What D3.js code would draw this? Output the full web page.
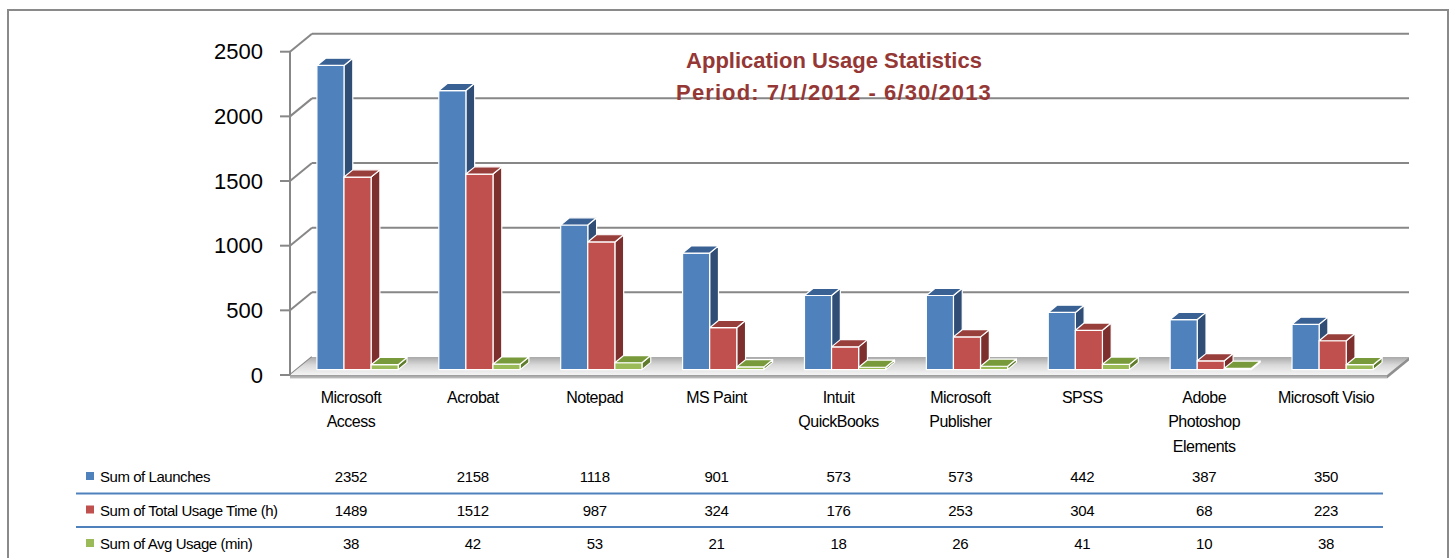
<!DOCTYPE html>
<html>
<head>
<meta charset="utf-8">
<script src="https://cdn.jsdelivr.net/npm/d3@7"></script>
<style>
  html, body { margin: 0; padding: 0; background: #fff; }
  svg { display: block; }
  text { font-family: "Liberation Sans", Arial, sans-serif; fill: #000; }
</style>
</head>
<body>
<svg id="chart" width="1452" height="558"></svg>
<script>
// ---- data ----
const categories = ["Microsoft Access", "Acrobat", "Notepad", "MS Paint", "Intuit QuickBooks",
  "Microsoft Publisher", "SPSS", "Adobe Photoshop Elements", "Microsoft Visio"];
const categoryLines = [["Microsoft", "Access"], ["Acrobat"], ["Notepad"], ["MS Paint"],
  ["Intuit", "QuickBooks"], ["Microsoft", "Publisher"], ["SPSS"], ["Adobe", "Photoshop", "Elements"],
  ["Microsoft Visio"]];
const seriesNames = ["Sum of Launches", "Sum of Total Usage Time (h)", "Sum of Avg Usage (min)"];
const launches = [2352, 2158, 1118, 901, 573, 573, 442, 387, 350];
const totalUsage = [1489, 1512, 987, 324, 176, 253, 304, 68, 223];
const avgUsage = [38, 42, 53, 21, 18, 26, 41, 10, 38];
const yTicks = [0, 500, 1000, 1500, 2000, 2500];
const titleLines = ["Application Usage Statistics", "Period: 7/1/2012 - 6/30/2013"];

const seriesValues = [launches, totalUsage, avgUsage];
const faceColors = [
  { front: "#4F81BD", top: "#3A6193", side: "#2F4D75" },
  { front: "#C0504D", top: "#983F3C", side: "#7D2F2D" },
  { front: "#9BBB59", top: "#789A3A", side: "#5F7B2C" }
];

// ---- layout ----
const svg = d3.select("#chart");
const X0 = 290, X1 = 1387;
const DX = 22, DY = 18;       // depth offset of back wall
const D0 = 0.3, D1 = 0.7;     // bar depth range
const grid = "#878787";

const x = d3.scaleBand().domain(categories).range([X0, X1]).paddingInner(0).paddingOuter(0);
const bw = x.bandwidth();
const xs = d3.scaleBand().domain(seriesNames).range([bw / 6, bw * 5 / 6]).padding(0);
const y = d3.scaleLinear().domain([0, 2500]).range([375, 51.7]);

const P = (px, v, d) => [px + d * DX, y(v) - d * DY];
const poly = pts => pts.map(p => p.join(",")).join(" ");

// outer border
svg.append("rect").attr("x", 8).attr("y", 10).attr("width", 1440).attr("height", 560)
  .attr("fill", "none").attr("stroke", "#8a8a8a").attr("stroke-width", 2);

// defs: floor gradient
const defs = svg.append("defs");
const fg = defs.append("linearGradient").attr("id", "floorG").attr("x1", 0).attr("y1", 0).attr("x2", 0).attr("y2", 1);
fg.append("stop").attr("offset", "0%").attr("stop-color", "#a9a9a9");
fg.append("stop").attr("offset", "45%").attr("stop-color", "#d9d9d9");
fg.append("stop").attr("offset", "100%").attr("stop-color", "#f4f4f4");
const sg = defs.append("linearGradient").attr("id", "slabG").attr("x1", 0).attr("y1", 0).attr("x2", 0).attr("y2", 1);
sg.append("stop").attr("offset", "0%").attr("stop-color", "#9a9a9a");
sg.append("stop").attr("offset", "100%").attr("stop-color", "#c4c4c4");

// back wall gridlines
svg.append("g").selectAll("line").data(yTicks.filter(t => t > 0)).join("line")
  .attr("x1", d => P(X0, d, 1)[0]).attr("y1", d => P(X0, d, 1)[1])
  .attr("x2", d => P(X1, d, 1)[0]).attr("y2", d => P(X1, d, 1)[1])
  .attr("stroke", grid).attr("stroke-width", 2);

// left wall diagonals
svg.append("g").selectAll("line").data(yTicks).join("line")
  .attr("x1", d => P(X0, d, 0)[0]).attr("y1", d => P(X0, d, 0)[1])
  .attr("x2", d => P(X0, d, 1)[0]).attr("y2", d => P(X0, d, 1)[1])
  .attr("stroke", grid).attr("stroke-width", 2);

// floor
svg.append("polygon")
  .attr("points", poly([P(X0, 0, 0), P(X1, 0, 0), P(X1, 0, 1), P(X0, 0, 1)]))
  .attr("fill", "url(#floorG)");
svg.append("polygon")
  .attr("points", poly([P(X0, 0, 0), P(X1, 0, 0), [P(X1, 0, 0)[0], P(X1, 0, 0)[1] + 3.5], [X0, y(0) + 3.5]]))
  .attr("fill", "url(#slabG)");
svg.append("polygon")
  .attr("points", poly([P(X1, 0, 0), P(X1, 0, 1), [P(X1, 0, 1)[0], P(X1, 0, 1)[1] + 3.5], [P(X1, 0, 0)[0], P(X1, 0, 0)[1] + 3.5]]))
  .attr("fill", "#8f8f8f");

// y axis line and ticks
svg.append("line").attr("x1", X0).attr("x2", X0).attr("y1", y(0)).attr("y2", y(2500))
  .attr("stroke", grid).attr("stroke-width", 2);
svg.append("g").selectAll("line").data(yTicks).join("line")
  .attr("x1", X0 - 10).attr("x2", X0).attr("y1", d => y(d)).attr("y2", d => y(d))
  .attr("stroke", grid).attr("stroke-width", 2);
svg.append("g").selectAll("text").data(yTicks).join("text")
  .attr("x", 263).attr("y", d => y(d)).attr("text-anchor", "end")
  .attr("dominant-baseline", "central").style("font-size", "22px")
  .text(d => d);

// bars (painter's order: left to right)
const bars = [];
categories.forEach((c, i) => {
  seriesNames.forEach((s, j) => {
    bars.push({ c, s, j, v: seriesValues[j][i] });
  });
});
const bg = svg.append("g").attr("stroke", "#ffffff").attr("stroke-width", 1.2).attr("stroke-linejoin", "round");
bars.forEach(b => {
  const xl = x(b.c) + xs(b.s), xr = xl + xs.bandwidth();
  const col = faceColors[b.j];
  const g = bg.append("g");
  g.append("polygon").attr("points", poly([P(xr, 0, D0), P(xr, 0, D1), P(xr, b.v, D1), P(xr, b.v, D0)])).attr("fill", col.side);
  g.append("polygon").attr("points", poly([P(xl, 0, D0), P(xr, 0, D0), P(xr, b.v, D0), P(xl, b.v, D0)])).attr("fill", col.front);
  g.append("polygon").attr("points", poly([P(xl, b.v, D0), P(xr, b.v, D0), P(xr, b.v, D1), P(xl, b.v, D1)])).attr("fill", col.top);
});

// title
const title = svg.append("g");
title.selectAll("text").data(titleLines).join("text")
  .attr("x", 834).attr("y", (d, i) => 60 + i * 32)
  .attr("text-anchor", "middle").attr("dominant-baseline", "central")
  .style("font-size", "22px").style("font-weight", "bold").style("fill", "#953735")
  .style("letter-spacing", (d, i) => i === 1 ? "1.1px" : "0px")
  .text(d => d);

// category labels
const cl = svg.append("g");
categories.forEach((c, i) => {
  cl.append("text")
    .attr("x", x(c) + bw / 2).attr("text-anchor", "middle")
    .style("font-size", "16px").style("letter-spacing", "-0.5px")
    .selectAll("tspan").data(categoryLines[i]).join("tspan")
    .attr("x", x(c) + bw / 2).attr("y", (d, k) => 397 + k * 24.7)
    .attr("dominant-baseline", "central").text(d => d);
});

// data table
const rowY = [476.5, 510, 543.5];
const tg = svg.append("g");
tg.selectAll("line").data([493.5, 527]).join("line")
  .attr("x1", 76).attr("x2", 1383).attr("y1", d => d).attr("y2", d => d)
  .attr("stroke", "#4F81BD").attr("stroke-width", 2);
seriesNames.forEach((s, j) => {
  tg.append("rect").attr("x", 86).attr("y", rowY[j] - 4.5).attr("width", 8).attr("height", 8)
    .attr("fill", faceColors[j].front);
  tg.append("text").attr("x", 100).attr("y", rowY[j]).attr("dominant-baseline", "central")
    .style("font-size", "15px").style("letter-spacing", "-0.45px").text(s);
  tg.append("g").selectAll("text").data(seriesValues[j]).join("text")
    .attr("x", (d, i) => x(categories[i]) + bw / 2).attr("y", rowY[j])
    .attr("text-anchor", "middle").attr("dominant-baseline", "central")
    .style("font-size", "15px").style("letter-spacing", "-0.3px").text(d => d);
});
</script>
</body>
</html>
